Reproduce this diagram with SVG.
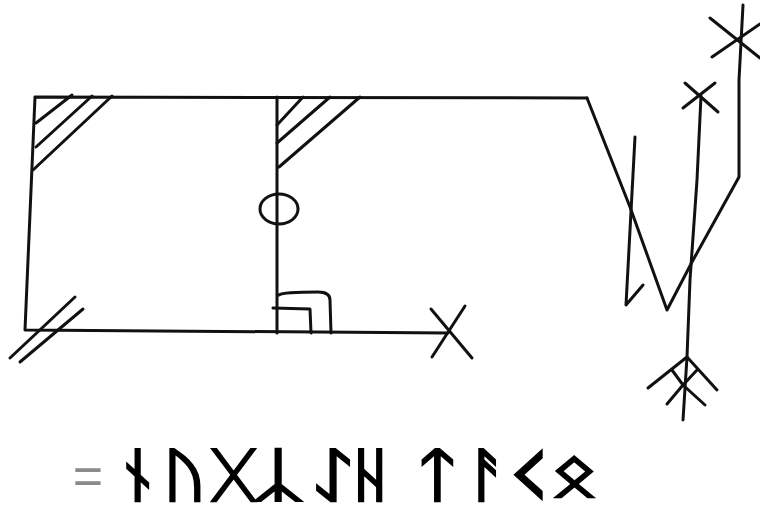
<svg xmlns="http://www.w3.org/2000/svg" width="760" height="506" viewBox="0 0 760 506">
<style>
.s{fill:none;stroke:#111;stroke-width:3;stroke-linecap:round;stroke-linejoin:round}
.r{font-family:"DejaVu Sans","Noto Sans","Liberation Sans",sans-serif;font-size:58px;fill:#000;stroke:#000;stroke-width:2.4;text-anchor:middle}
.eq{font-family:"Liberation Sans",sans-serif;font-size:52px;fill:#8a8a8a;text-anchor:middle}
</style>
<rect width="760" height="506" fill="#fff"/>
<g id="drawing">
<path class="s" d="M587,98 L35,97 L25,330 L448,333"/>
<path class="s" d="M277,97 L277,333"/>
<ellipse class="s" cx="279" cy="209" rx="19" ry="15"/>
<path class="s" d="M36,123 L72,95 M36,147 L92,96 M33,170 L112,96"/>
<path class="s" d="M277,125 L303,97 M277,143 L330,97 M279,167 L360,97"/>
<path class="s" d="M75,297 L10,358 M83,309 L20,362"/>
<path class="s" d="M279,295 Q283,292 318,292 Q330,292 330,300 L331,333 M273,308 L310,309 L311,333"/>
<path class="s" d="M431,309 L472,358 M465,306 L432,357"/>
<path class="s" d="M587,98 L630,207 L667,310 L692,262 L739,177 L739,80 L743,5"/>
<path class="s" d="M710,18 L760,58 M712,57 L760,24"/>
<path class="s" d="M635,137 L626,305 L643,285"/>
<path class="s" d="M701,96 L697,180 L690,280 L687,357 L683,420"/>
<path class="s" d="M685,83 L718,112 M715,83 L683,108"/>
<path class="s" d="M648,388 L687,357 L717,390 M672,370 L683,385 L697,370 M667,404 L683,385 L705,405"/>
</g>
<g id="transcription">
<text class="eq" x="88" y="494">=</text>
<text class="r" transform="translate(137,495) scale(1.3,1)">ᚾ</text>
<text class="r" transform="translate(184,495) scale(1.3,1)">ᚢ</text>
<text class="r" transform="translate(233,495) scale(1.3,1)">ᚷ</text>
<text class="r" transform="translate(278,495) scale(1.5,1)">ᛣ</text>
<text class="r" transform="translate(333,495) scale(1.5,1)">ᛇ</text>
<text class="r" transform="translate(370,495) scale(1.3,1)">ᚺ</text>
<text class="r" transform="translate(438,495) scale(1.4,1)">ᛏ</text>
<text class="r" transform="translate(487,495) scale(1.3,1)">ᚨ</text>
<text class="r" style="stroke-width:1.3" transform="translate(528,510) scale(2.3,1.75)">ᚲ</text>
<text class="r" transform="translate(575,495) scale(1.4,1)">ᛟ</text>
</g>
</svg>
